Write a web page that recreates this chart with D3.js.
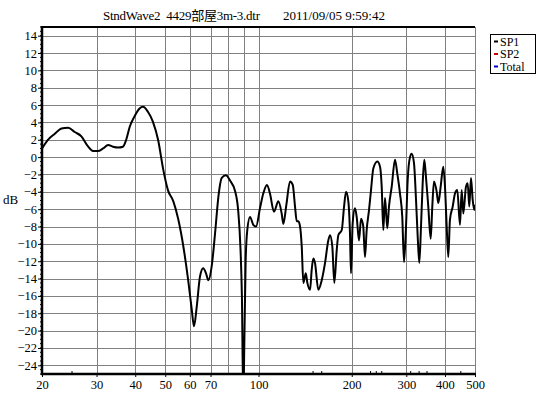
<!DOCTYPE html>
<html><head><meta charset="utf-8">
<script src="https://cdn.jsdelivr.net/npm/d3@7"></script>
<style>
html,body{margin:0;padding:0;background:#fff;}
svg{display:block;}
text{font-family:"Liberation Serif","Noto Sans CJK JP",serif;font-size:12px;fill:#000;}
</style>
</head><body>
<script>
const titleLeft = "StndWave2  4429部屋3m-3.dtr";
const titleRight = "2011/09/05 9:59:42";
const yLabel = "dB";
const xTickValues = [20, 30, 40, 50, 60, 70, 100, 200, 300, 400, 500];
const xGridValues = [30, 40, 50, 60, 70, 80, 90, 100, 200, 300, 400, 500];
const yTickValues = [14, 12, 10, 8, 6, 4, 2, 0, -2, -4, -6, -8, -10, -12, -14, -16, -18, -20, -22, -24];
const seriesNames = ["SP1", "SP2", "Total"];
const seriesColors = ["#000000", "#cc0000", "#0000cc"];

const frequency = [20, 20.9, 22.0, 23.1, 24.3, 25.5, 26.8, 28.2, 29.2, 30.3,
 31.5, 32.7, 33.9, 35.2, 36.5, 37.4, 38.4, 39.8, 41.3, 42.4,
 44.0, 45.6, 47.4, 49.3, 51.0, 53.1, 55.1, 57.2, 59.3, 60.9,
 61.9, 63.2, 64.7, 66.3, 67.7, 68.9, 70.6, 72.4, 74.2, 76.1,
 78.5, 80.9, 84.0, 86.0, 87.5, 88.4, 89.3, 90.0, 90.9, 92.0,
 93.9, 96.2, 98.2, 101.1, 103.6, 106.5, 108.9, 112.2, 115.9, 118.8,
 120.3, 123.0, 126.4, 129.0, 131.2, 132.9, 134.5, 136.2, 137.9, 139.6,
 142.1, 143.8, 146.7, 148.5, 150.3, 152.2, 156.0, 160.0, 164.0, 168.0,
 170.2, 173.1, 175.7, 178.9, 181.0, 185.7, 188.9, 191.7, 195.0, 197.4,
 198.9, 201.4, 204.9, 207.5, 211.1, 214.3, 217.9, 220.7, 223.5, 227.4,
 230.8, 234.8, 241.9, 246.8, 249.9, 252.9, 256.1, 260.5, 263.8, 269.2,
 275.9, 280.6, 286.3, 291.2, 295.0, 299.4, 303.2, 308.4, 312.3, 317.7,
 322.5, 326.6, 330.5, 334.7, 338.9, 343.0, 347.3, 353.3, 359.7, 364.0,
 368.6, 376.1, 380.6, 387.4, 395.0, 400.0, 405.1, 409.9, 415.1, 423.6,
 430.9, 438.3, 447.2, 452.9, 458.3, 467.6, 473.5, 479.2, 485.3, 491.4,
 497.3, 500];

const sp1 = [1.0, 2.0, 2.7, 3.3, 3.4, 2.9, 2.4, 1.2, 0.7, 0.7,
 1.0, 1.4, 1.2, 1.1, 1.2, 2.0, 3.5, 4.7, 5.6, 5.8,
 5.2, 4.1, 2.0, -1.5, -3.8, -5.1, -7.2, -10.3, -14.2, -17.6,
 -19.5, -17.2, -13.8, -12.8, -13.4, -14.2, -12.6, -8.8, -4.6, -2.4,
 -2.1, -2.7, -3.9, -6.2, -10.7, -16.1, -28, -21.5, -11.9, -8.4,
 -6.9, -7.8, -8.0, -5.9, -4.2, -3.2, -4.2, -6.3, -5.1, -6.5,
 -7.7, -5.5, -2.8, -3.2, -5.7, -7.4, -7.4, -8.0, -10.3, -14.5,
 -13.4, -14.5, -15.3, -13.0, -11.7, -12.2, -15.3, -14.2, -12.2, -9.6,
 -9.0, -10.3, -14.5, -10.7, -9.0, -8.4, -5.7, -4.0, -5.1, -8.8,
 -13.4, -7.6, -5.9, -6.9, -9.6, -7.1, -8.0, -11.5, -8.4, -6.1,
 -3.8, -1.3, -0.5, -1.1, -3.4, -8.4, -4.7, -8.2, -5.7, -3.4,
 -0.3, -1.9, -4.2, -6.9, -12.1, -8.0, -2.6, 0.0, 0.4, -0.7,
 -4.9, -9.2, -12.2, -8.0, -3.0, -0.3, -2.3, -5.7, -9.4, -5.7,
 -2.8, -4.0, -5.3, -3.4, -1.1, -3.4, -8.0, -11.5, -7.2, -5.7,
 -4.2, -3.8, -7.8, -3.8, -6.5, -3.4, -3.0, -5.7, -2.4, -4.9,
 -6.1, -5.5];

(function () {
const W = 539, H = 407;
const pL = 42, pR = 475, pT = 27, pB = 374;

const svg = d3.select("body").append("svg").attr("width", W).attr("height", H);
svg.append("rect").attr("width", W).attr("height", H).attr("fill", "#fff");

const x = d3.scaleLog().domain([20, 500]).range([pL, pR]);
const y = d3.scaleLinear().domain([-25, 15]).range([pB, pT]);

// grid
const grid = svg.append("g").attr("stroke", "#808080").attr("stroke-width", 1).attr("shape-rendering", "crispEdges");
grid.selectAll("line.h").data(yTickValues).join("line")
  .attr("x1", pL).attr("x2", pR)
  .attr("y1", d => Math.round(y(d)) + 0.5).attr("y2", d => Math.round(y(d)) + 0.5);
grid.selectAll("line.v").data(xGridValues).join("line")
  .attr("y1", pT).attr("y2", pB)
  .attr("x1", d => Math.round(x(d)) + 0.5).attr("x2", d => Math.round(x(d)) + 0.5);

// curve
svg.append("clipPath").attr("id", "clip").append("rect")
  .attr("x", pL).attr("y", pT).attr("width", pR - pL).attr("height", pB - pT);
const pts = frequency.map((f, i) => [f, sp1[i]]);
svg.append("path").datum(pts)
  .attr("clip-path", "url(#clip)")
  .attr("fill", "none").attr("stroke", seriesColors[0]).attr("stroke-width", 2)
  .attr("stroke-linejoin", "round")
  .attr("d", d3.line().x(d => x(d[0])).y(d => y(d[1])).curve(d3.curveMonotoneX));

// top border
svg.append("line").attr("x1", pL).attr("x2", pR).attr("y1", pT).attr("y2", pT)
  .attr("stroke", "#000").attr("stroke-width", 2);

// y axis
const yAxis = d3.axisLeft(y).tickValues(yTickValues).tickSize(4).tickFormat(d3.format("d"));
const gy = svg.append("g").attr("transform", `translate(${pL},0)`).call(yAxis);
gy.select(".domain").remove();
gy.selectAll("text").style("font-size", "12.5px").style("font-family", "Liberation Serif").attr("x", -5);
const yMinor = d3.range(-25, 15.01, 0.5);
svg.append("g").selectAll("line").data(yMinor).join("line")
  .attr("x1", pL - 2).attr("x2", pL).attr("y1", d => y(d)).attr("y2", d => y(d))
  .attr("stroke", "#000").attr("stroke-width", 1);
svg.append("line").attr("x1", pL).attr("x2", pL).attr("y1", pT - 1).attr("y2", pB + 1)
  .attr("stroke", "#000").attr("stroke-width", 2.5);

// x axis
const xAxis = d3.axisBottom(x).tickValues(xTickValues).tickSize(3).tickFormat(d3.format("d"));
const gx = svg.append("g").attr("transform", `translate(0,${pB})`).call(xAxis);
gx.select(".domain").remove();
gx.selectAll("text").style("font-size", "12.5px").style("font-family", "Liberation Serif").attr("y", 6);
const xMinor = [25, 150, 160, 230, 240, 250, 310, 330, 350, 450];
svg.append("g").selectAll("line").data(xMinor).join("line")
  .attr("x1", d => x(d)).attr("x2", d => x(d)).attr("y1", pB - 3).attr("y2", pB)
  .attr("stroke", "#000").attr("stroke-width", 1);
svg.append("line").attr("x1", pL - 1).attr("x2", pR + 1).attr("y1", pB).attr("y2", pB)
  .attr("stroke", "#000").attr("stroke-width", 2.5);

// y label
svg.append("text").attr("x", 3).attr("y", 204).style("font-size", "13px").text(yLabel);

// title
svg.append("text").attr("x", 103).attr("y", 20).style("white-space", "pre").style("font-size", "13px")
  .attr("textLength", 157).attr("lengthAdjust", "spacing").text(titleLeft);
svg.append("text").attr("x", 283).attr("y", 20).style("white-space", "pre").style("font-size", "13px")
  .attr("textLength", 102).attr("lengthAdjust", "spacing").text(titleRight);

// legend
const lg = svg.append("g");
lg.append("rect").attr("x", 490.5).attr("y", 34.5).attr("width", 45).attr("height", 39)
  .attr("fill", "#fff").attr("stroke", "#000").attr("stroke-width", 1);
seriesNames.forEach((name, i) => {
  const cy = 41.5 + i * 12.5;
  lg.append("line").attr("x1", 494).attr("x2", 498).attr("y1", cy).attr("y2", cy)
    .attr("stroke", seriesColors[i]).attr("stroke-width", 2);
  lg.append("text").attr("x", 500).attr("y", cy + 4).style("font-size", "12px").text(name);
});
})();
</script>
</body></html>
